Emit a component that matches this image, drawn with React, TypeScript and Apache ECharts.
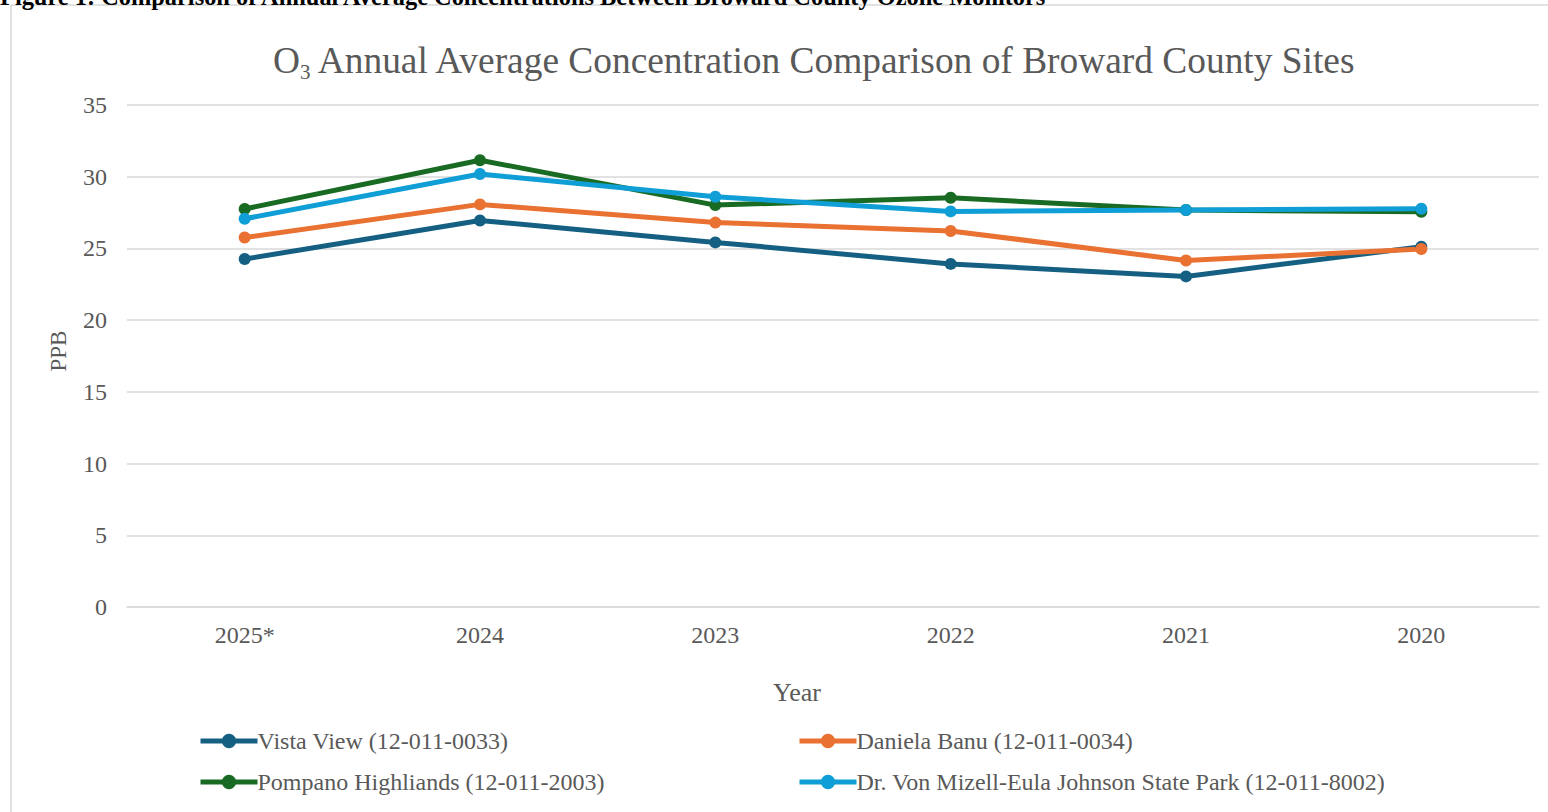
import React, { useEffect, useRef } from "react";
import * as echarts from "echarts";

const years = ["2025*", "2024", "2023", "2022", "2021", "2020"];
const vistaView = [24.26, 26.95, 25.42, 23.92, 23.05, 25.12];
const danielaBanu = [25.76, 28.07, 26.8, 26.22, 24.16, 24.96];
const pompano = [27.75, 31.15, 28.02, 28.53, 27.68, 27.55];
const vonMizell = [27.07, 30.19, 28.6, 27.58, 27.68, 27.77];

const seriesNames = [
  "Vista View (12-011-0033)",
  "Daniela Banu (12-011-0034)",
  "Pompano Highliands (12-011-2003)",
  "Dr. Von Mizell-Eula Johnson State Park (12-011-8002)",
];
const seriesColors = ["#156082", "#E97132", "#196B24", "#0F9ED5"];
const seriesData = [vistaView, danielaBanu, pompano, vonMizell];

const FONT = "'Liberation Serif', 'Times New Roman', serif";
const GREY = "#595959";

export default function App() {
  const ref = useRef<HTMLDivElement>(null);
  useEffect(() => {
    document.body.style.margin = "0";
    const chart = echarts.init(ref.current!, undefined, { renderer: "svg" });
    const legendCommon = {
      orient: "vertical",
      top: 729,
      itemWidth: 57,
      itemHeight: 18,
      itemGap: 17,
      padding: 0,
      lineStyle: { width: 5 },
      textStyle: { fontFamily: FONT, fontSize: 24, color: GREY, padding: [0, 0, 0, -5] },
    };
    chart.setOption({
      animation: false,
      backgroundColor: "#ffffff",
      textStyle: { fontFamily: FONT },
      graphic: [
        {
          type: "rect",
          shape: { x: 11, y: 5, width: 1600, height: 900 },
          style: { fill: "none", stroke: "#d9d9d9", lineWidth: 1.5 },
          silent: true,
        },
        {
          type: "text",
          x: 0,
          y: 8.5,
          style: {
            text: "Figure 1: Comparison of Annual Average Concentrations Between Broward County Ozone Monitors",
            font: "bold 24.4px " + FONT,
            fill: "#000000",
            textVerticalAlign: "bottom",
          },
        },
      ],
      title: {
        text: "O{sub|3} Annual Average Concentration Comparison of Broward County Sites",
        left: 273,
        top: 38,
        padding: 0,
        textStyle: {
          fontFamily: FONT,
          fontSize: 37.4,
          fontWeight: "normal",
          color: GREY,
          lineHeight: 44,
          verticalAlign: "middle",
          rich: {
            sub: {
              fontFamily: FONT,
              fontSize: 21,
              color: GREY,
              lineHeight: 22,
              verticalAlign: "bottom",
            },
          },
        },
      },
      legend: [
        { ...legendCommon, left: 198, data: [seriesNames[0], seriesNames[2]] },
        { ...legendCommon, left: 797, data: [seriesNames[1], seriesNames[3]] },
      ],
      grid: { left: 127, right: 9, top: 105, bottom: 205 },
      xAxis: {
        type: "category",
        data: years,
        boundaryGap: true,
        name: "Year",
        nameLocation: "middle",
        nameGap: 72,
        nameTextStyle: { fontFamily: FONT, fontSize: 26, color: GREY, padding: [0, 72, 0, 0] },
        axisLine: { lineStyle: { color: "#d9d9d9", width: 1.5 } },
        axisTick: { show: false },
        axisLabel: { fontFamily: FONT, fontSize: 24, color: GREY, margin: 16 },
      },
      yAxis: {
        type: "value",
        min: 0,
        max: 35,
        interval: 5,
        name: "PPB",
        nameLocation: "middle",
        nameGap: 57,
        nameTextStyle: { fontFamily: FONT, fontSize: 23, color: GREY, padding: [0, 0, 0, 10] },
        axisLine: { show: false },
        axisTick: { show: false },
        axisLabel: { fontFamily: FONT, fontSize: 24, color: GREY, margin: 20 },
        splitLine: { lineStyle: { color: "#d9d9d9", width: 1.5 } },
      },
      series: seriesData.map((d, i) => ({
        name: seriesNames[i],
        type: "line",
        data: d,
        symbol: "circle",
        symbolSize: 12,
        color: seriesColors[i],
        lineStyle: { width: 5, color: seriesColors[i] },
        itemStyle: { color: seriesColors[i] },
      })),
    });
    return () => chart.dispose();
  }, []);
  return <div ref={ref} style={{ width: 1548, height: 812 }} />;
}
